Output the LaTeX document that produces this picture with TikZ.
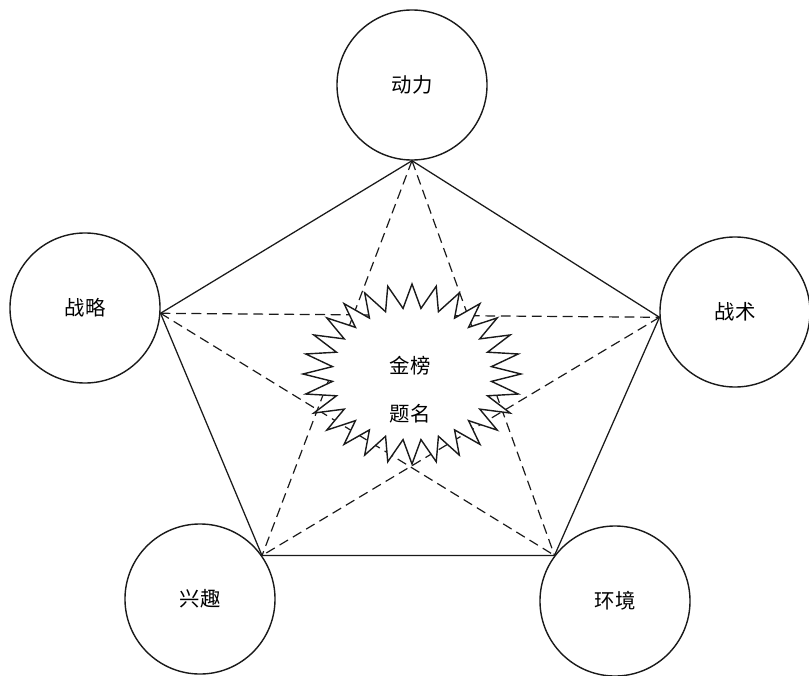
\documentclass[tikz,border=0pt]{standalone}
\usepackage{fontspec}
\setmainfont{Noto Sans CJK SC}
\definecolor{ink}{HTML}{1A1A1A}

\begin{document}
\begin{tikzpicture}[x=.025cm,y=-.025cm,line width=1pt,
  ring/.style={circle,draw=ink,line width=1pt,minimum size=3.75cm,inner sep=0pt,font=\fontsize{14.5}{16}\selectfont},
  side/.style={draw=ink,line width=.9pt},
  cross/.style={draw=ink,line width=.85pt,dash pattern=on 7pt off 4pt}]
\useasboundingbox (0,0) rectangle (809,676);
\fill[white] (0,0) rectangle (809,676);
\node[ring] (dongli) at (412,85) {动力};
\node[ring] (zhanlue) at (85,308) {战略};
\node[ring] (zhanshu) at (735,312) {战术};
\node[ring] (xingqu) at (200,599) {兴趣};
\node[ring] (huanjing) at (615,601) {环境};
\coordinate (a) at (dongli.south);
\coordinate (b) at (zhanlue.-4);
\coordinate (c) at (zhanshu.184);
\coordinate (d) at (xingqu.35);
\coordinate (e) at (huanjing.143);
\draw[cross] (a)--(d) (a)--(e) (b)--(c) (b)--(e) (c)--(d);
\draw[side] (a)--(b)--(d)--(e)--(c)--cycle;
% starburst in the middle
\filldraw[draw=ink,fill=white,line width=1pt,line join=miter,shift={(412,374)}] (0:109 and 90)
  \foreach \i in {0,...,27}{ -- ({(\i+.5)*360/28}:80 and 66) -- ({(\i+1)*360/28}:109 and 90)} -- cycle;
\node[align=center,font=\fontsize{14.5}{16}\selectfont] (bang) at (410,390) {金榜\\[18pt]题名};
\end{tikzpicture}
\end{document}
